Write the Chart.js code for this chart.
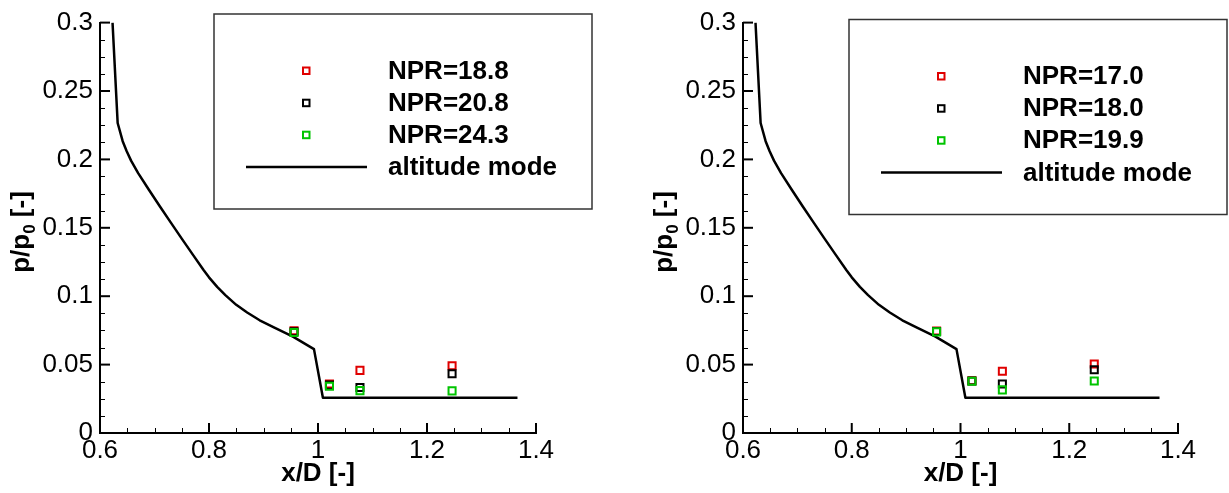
<!doctype html>
<html lang="en">
<head>
<meta charset="utf-8">
<title>Pressure distribution</title>
<script src="https://cdn.jsdelivr.net/npm/chart.js@4.4.0/dist/chart.umd.min.js"></script>
<style>
  body { margin: 0; background: #fff; }
  .panel { position: absolute; top: 0; height: 493px; }
</style>
</head>
<body>
<div class="panel" style="left:0;width:614px"><canvas id="leftChart"></canvas></div>
<div class="panel" style="left:614px;width:615px"><canvas id="rightChart"></canvas></div>
<script>
// axis ticks
const xTicks = [0.6, 0.8, 1.0, 1.2, 1.4];
const xTickLabels = ['0.6', '0.8', '1', '1.2', '1.4'];
const yTicks = [0, 0.05, 0.1, 0.15, 0.2, 0.25, 0.3];
const yTickLabels = ['0', '0.05', '0.1', '0.15', '0.2', '0.25', '0.3'];

// altitude mode wall pressure (same curve in both panels)
const lineX = [0.623, 0.6324, 0.6416, 0.649, 0.657, 0.670, 0.690, 0.710, 0.730, 0.750, 0.770,
  0.790, 0.800, 0.815, 0.830, 0.850, 0.870, 0.893, 0.920, 0.954, 0.9926, 1.009, 1.366];
const lineY = [0.300, 0.2266, 0.2133, 0.2059, 0.1991, 0.1900, 0.1776, 0.1656, 0.1538, 0.1421, 0.1306,
  0.1192, 0.1138, 0.1068, 0.1008, 0.0937, 0.0881, 0.0824, 0.0770, 0.0704, 0.0613, 0.0258, 0.0258];

// measurement positions
const probeX = [0.956, 1.021, 1.077, 1.246];

// left panel
const leftNames = ['NPR=18.8', 'NPR=20.8', 'NPR=24.3'];
const npr188 = [0.0748, 0.0358, 0.0458, 0.0492];
const npr208 = [0.0740, 0.0350, 0.0332, 0.0433];
const npr243 = [0.0734, 0.0342, 0.0310, 0.0308];

// right panel
const rightNames = ['NPR=17.0', 'NPR=18.0', 'NPR=19.9'];
const npr170 = [0.0745, 0.0382, 0.0451, 0.0504];
const npr180 = [0.0742, 0.0380, 0.0358, 0.0463];
const npr199 = [0.0739, 0.0378, 0.0315, 0.0380];

const lineName = 'altitude mode';
const colors = ['#e00000', '#000000', '#00c400'];
const FONT = '"Liberation Sans", Arial, Helvetica, sans-serif';

function minorOf(ticks) {
  const out = [];
  for (let i = 0; i < ticks.length - 1; i++) {
    const step = (ticks[i + 1] - ticks[i]) / 4;
    for (let k = 1; k < 4; k++) out.push(ticks[i] + k * step);
  }
  return out;
}

function decoPlugin(box, titleX) {
  return {
    id: 'deco',
    afterDraw(chart) {
      const ctx = chart.ctx, xs = chart.scales.x, ys = chart.scales.y;
      const a = chart.chartArea;
      ctx.save();
      // inward ticks
      ctx.strokeStyle = '#000';
      ctx.lineWidth = 1;
      minorOf(xTicks).forEach(v => {
        const p = Math.round(xs.getPixelForValue(v)) + 0.5;
        ctx.beginPath(); ctx.moveTo(p, a.bottom); ctx.lineTo(p, a.bottom - 5); ctx.stroke();
      });
      minorOf(yTicks).forEach(v => {
        const p = Math.round(ys.getPixelForValue(v)) + 0.5;
        ctx.beginPath(); ctx.moveTo(a.left, p); ctx.lineTo(a.left + 5, p); ctx.stroke();
      });
      ctx.lineWidth = 2;
      xTicks.forEach(v => {
        const p = xs.getPixelForValue(v);
        ctx.beginPath(); ctx.moveTo(p, a.bottom); ctx.lineTo(p, a.bottom - 10); ctx.stroke();
      });
      yTicks.forEach(v => {
        const p = ys.getPixelForValue(v);
        ctx.beginPath(); ctx.moveTo(a.left, p); ctx.lineTo(a.left + 10, p); ctx.stroke();
      });

      // axis titles
      ctx.fillStyle = '#000';
      ctx.textBaseline = 'alphabetic';
      ctx.textAlign = 'center';
      ctx.font = 'bold 26px ' + FONT;
      ctx.fillText('x/D [-]', (a.left + a.right) / 2, 481);

      ctx.save();
      ctx.translate(titleX, 232);
      ctx.rotate(-Math.PI / 2);
      ctx.textAlign = 'left';
      const big = 'bold 26px ' + FONT, small = 'bold 17px ' + FONT;
      ctx.font = big; const w1 = ctx.measureText('p/p').width, w3 = ctx.measureText(' [-]').width;
      ctx.font = small; const w2 = ctx.measureText('0').width;
      let x0 = -(w1 + w2 + w3) / 2;
      ctx.font = big; ctx.fillText('p/p', x0, 0);
      ctx.font = small; ctx.fillText('0', x0 + w1, 6);
      ctx.font = big; ctx.fillText(' [-]', x0 + w1 + w2, 0);
      ctx.restore();

      // legend box
      ctx.strokeStyle = '#333';
      ctx.lineWidth = 1.5;
      ctx.strokeRect(box.x, box.y, box.w, box.h);
      const rows = [56.5, 88.7, 120.7, 153];
      ctx.font = 'bold 26px ' + FONT;
      ctx.textAlign = 'left';
      ctx.textBaseline = 'middle';
      box.names.forEach((n, i) => {
        const cy = box.y + rows[i];
        ctx.strokeStyle = colors[i];
        ctx.lineWidth = 2;
        ctx.strokeRect(box.x + 89, cy - 3, 6.5, 6.5);
        ctx.fillStyle = '#000';
        ctx.fillText(n, box.x + 174, cy + 1);
      });
      const ly = box.y + rows[3];
      ctx.strokeStyle = '#000';
      ctx.lineWidth = 2.5;
      ctx.beginPath(); ctx.moveTo(box.x + 32, ly); ctx.lineTo(box.x + 153, ly); ctx.stroke();
      ctx.fillText(lineName, box.x + 174, ly + 1);
      ctx.restore();
    }
  };
}

function makeChart(id, names, series, yWidth, padRight, box, titleX) {
  const datasets = [];
  series.forEach((vals, i) => {
    datasets.push({
      label: names[i],
      data: probeX.map((x, k) => ({ x: x, y: vals[k] })),
      showLine: false,
      pointStyle: 'rect',
      pointRadius: 5,
      pointBorderWidth: 2,
      pointBorderColor: colors[i],
      pointBackgroundColor: 'rgba(0,0,0,0)',
      order: 2 - i
    });
  });
  datasets.push({
    label: lineName,
    data: lineX.map((x, k) => ({ x: x, y: lineY[k] })),
    showLine: true,
    borderColor: '#000',
    borderWidth: 2.5,
    borderJoinStyle: 'round',
    pointRadius: 0,
    tension: 0,
    order: 5
  });
  box.names = names;
  return new Chart(document.getElementById(id), {
    type: 'scatter',
    data: { datasets: datasets },
    options: {
      responsive: true,
      maintainAspectRatio: false,
      animation: false,
      layout: { padding: { top: 21, right: padRight, left: 0, bottom: 0 } },
      plugins: { legend: { display: false }, tooltip: { enabled: false } },
      scales: {
        x: {
          type: 'linear', min: 0.6, max: 1.4,
          grid: { display: false, drawTicks: false },
          border: { display: true, color: '#000', width: 2 },
          afterBuildTicks: s => { s.ticks = xTicks.map(v => ({ value: v })); },
          afterFit: s => { s.height = 60; },
          ticks: {
            color: '#000', padding: 2, maxRotation: 0, autoSkip: false,
            font: { family: FONT, size: 26 },
            callback: (v, i) => xTickLabels[i]
          }
        },
        y: {
          type: 'linear', min: 0, max: 0.3,
          grid: { display: false, drawTicks: false },
          border: { display: true, color: '#000', width: 2 },
          afterBuildTicks: s => { s.ticks = yTicks.map(v => ({ value: v })); },
          afterFit: s => { s.width = yWidth; },
          ticks: {
            color: '#000', padding: 7, autoSkip: false,
            font: { family: FONT, size: 26 },
            callback: (v, i) => yTickLabels[i]
          }
        }
      }
    },
    plugins: [decoPlugin(box, titleX)]
  });
}

makeChart('leftChart', leftNames, [npr188, npr208, npr243], 100, 78,
  { x: 214, y: 14, w: 378, h: 195 }, 29);
makeChart('rightChart', rightNames, [npr170, npr180, npr199], 129, 51,
  { x: 235, y: 19.5, w: 378, h: 195 }, 57.5);
</script>
</body>
</html>
